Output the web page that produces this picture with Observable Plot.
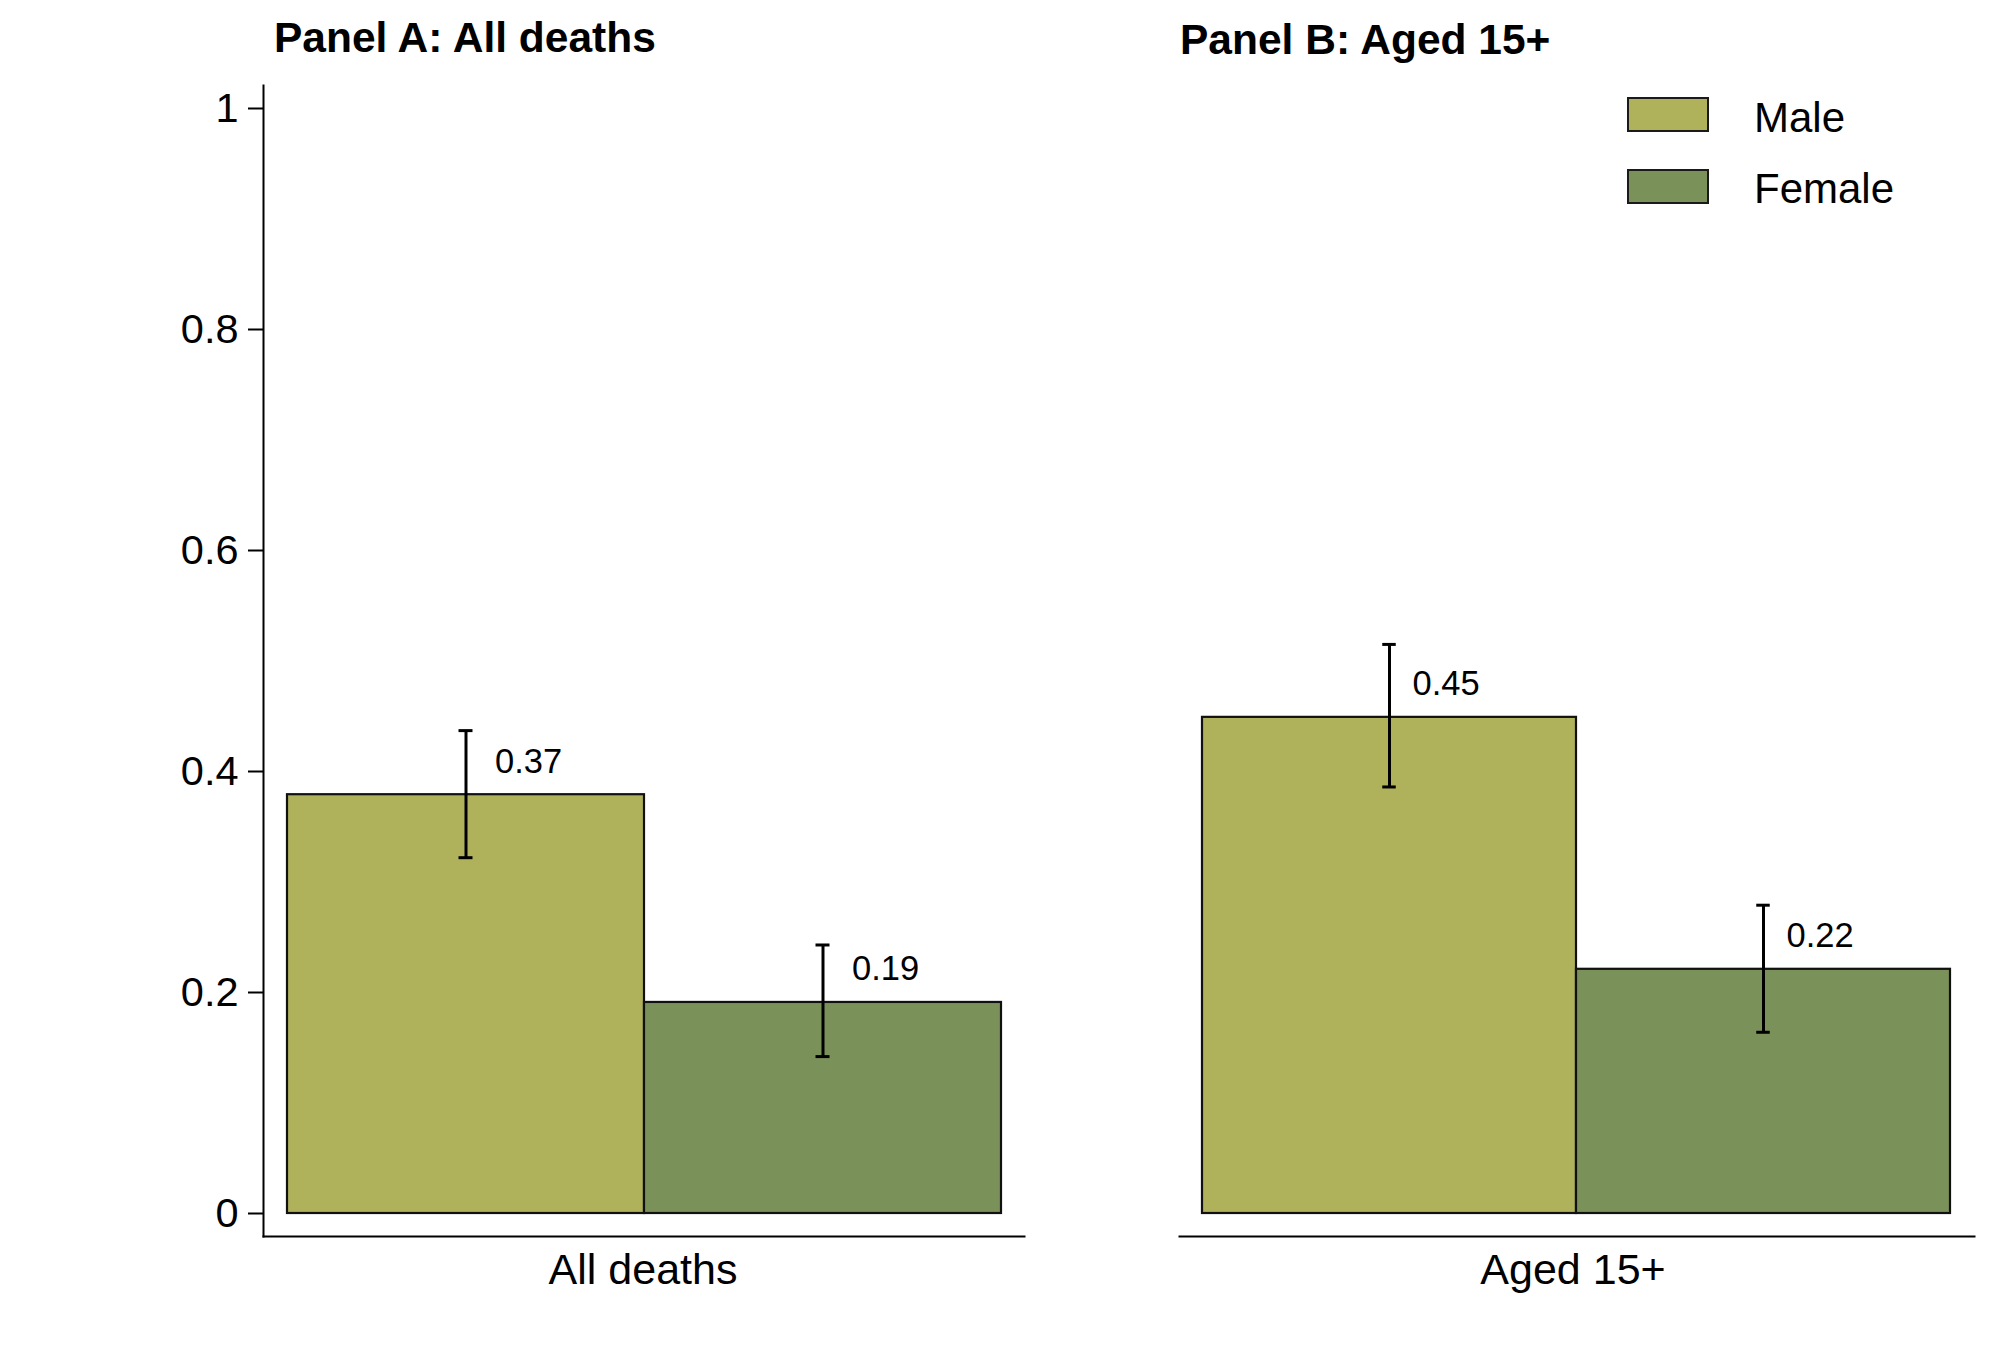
<!DOCTYPE html>
<html><head><meta charset="utf-8">
<script src="https://cdn.jsdelivr.net/npm/d3@7"></script>
<script src="https://cdn.jsdelivr.net/npm/@observablehq/plot@0.6"></script>
<style>
body{margin:0;background:#fff;font-family:"Liberation Sans",Arial,Helvetica,sans-serif;}
#wrap{position:relative;width:2000px;height:1346px;overflow:hidden;background:#fff}
.panel{position:absolute;top:0}
.title{position:absolute;font-weight:bold;font-size:42.5px;line-height:42.5px;white-space:nowrap;color:#000}
.leg{position:absolute;display:flex;align-items:center;font-size:42px;line-height:42px;color:#000;white-space:nowrap}
.leg span{position:relative;top:3px}
.sw{width:78px;height:31px;border:2px solid #1a1a1a;margin-right:45px}
</style></head><body>
<div id="wrap"></div>
<script>
const groups = ["All deaths", "Aged 15+"];
const panelTitles = ["Panel A: All deaths", "Panel B: Aged 15+"];
const sexes = ["Male", "Female"];
const colors = ["#afb15b", "#7a9259"];
const allDeathsValues = [0.379, 0.191];
const allDeathsLow = [0.322, 0.142];
const allDeathsHigh = [0.437, 0.243];
const allDeathsLabels = ["0.37", "0.19"];
const aged15Values = [0.449, 0.221];
const aged15Low = [0.386, 0.164];
const aged15High = [0.515, 0.279];
const aged15Labels = ["0.45", "0.22"];
const yTicks = [0, 0.2, 0.4, 0.6, 0.8, 1];
const yTickLabels = ["0", "0.2", "0.4", "0.6", "0.8", "1"];

const FONT = '"Liberation Sans", Arial, Helvetica, sans-serif';
const wrap = document.getElementById("wrap");

function rowsFor(values, low, high, labels) {
  return sexes.map((s, i) => ({sex: s, value: values[i], lo: low[i], hi: high[i], label: labels[i]}));
}

function panel(cfg) {
  const bw = (cfg.width - cfg.ml - cfg.mr - cfg.il - cfg.ir) / 2;
  const capInset = (bw - 14) / 2;
  const marks = [];
  if (cfg.yAxis) {
    marks.push(Plot.axisY(yTicks, {
      tickFormat: d => yTickLabels[yTicks.indexOf(d)],
      tickSize: 15, tickPadding: 10, fontSize: 41.5, strokeWidth: 2, stroke: "#000", fill: "#000"
    }));
    marks.push(Plot.frame({anchor: "left", stroke: "#000", strokeWidth: 2}));
  }
  marks.push(Plot.frame({anchor: "bottom", stroke: "#000", strokeWidth: 2}));
  marks.push(Plot.barY(cfg.rows, {x: "sex", y: "value", fill: "sex", stroke: "#111", strokeWidth: 2.2}));
  marks.push(Plot.ruleX(cfg.rows, {x: "sex", y1: "lo", y2: "hi", stroke: "#000", strokeWidth: 3}));
  marks.push(Plot.tickY(cfg.rows, {x: "sex", y: "lo", stroke: "#000", strokeWidth: 3, insetLeft: capInset, insetRight: capInset}));
  marks.push(Plot.tickY(cfg.rows, {x: "sex", y: "hi", stroke: "#000", strokeWidth: 3, insetLeft: capInset, insetRight: capInset}));
  marks.push(Plot.text(cfg.rows, {x: "sex", y: "value", text: "label", textAnchor: "start", dx: cfg.labelDx, dy: -33, fontSize: 34.5, fill: "#000"}));
  marks.push(Plot.text([cfg.group], {frameAnchor: "bottom", lineAnchor: "top", dy: 17, dx: cfg.groupDx, fontSize: 43, fill: "#000"}));
  return Plot.plot({
    width: cfg.width, height: 1346,
    marginLeft: cfg.ml, marginRight: cfg.mr, marginTop: 85, marginBottom: 110,
    style: {fontFamily: FONT, background: "transparent", color: "#000"},
    x: {domain: sexes, padding: 0, insetLeft: cfg.il, insetRight: cfg.ir, axis: null},
    y: {domain: [0, 1], insetTop: 23, insetBottom: 23, axis: null},
    color: {domain: sexes, range: colors},
    marks
  });
}

const panels = [
  {left: 0, width: 1100, ml: 263, mr: 76, il: 24, ir: 23, yAxis: true, labelDx: 29, groupDx: -1,
   rows: rowsFor(allDeathsValues, allDeathsLow, allDeathsHigh, allDeathsLabels), group: groups[0],
   titleLeft: 274, titleTop: 17},
  {left: 1100, width: 900, ml: 79, mr: 26, il: 22, ir: 24, yAxis: false, labelDx: 23, groupDx: -4,
   rows: rowsFor(aged15Values, aged15Low, aged15High, aged15Labels), group: groups[1],
   titleLeft: 1180, titleTop: 18.5}
];

panels.forEach((p, i) => {
  const d = document.createElement("div");
  d.className = "panel";
  d.style.left = p.left + "px";
  d.appendChild(panel(p));
  wrap.appendChild(d);
  const t = document.createElement("div");
  t.className = "title";
  t.style.left = p.titleLeft + "px";
  t.style.top = p.titleTop + "px";
  t.textContent = panelTitles[i];
  wrap.appendChild(t);
});

sexes.forEach((s, i) => {
  const row = document.createElement("div");
  row.className = "leg";
  row.style.left = "1627px";
  row.style.top = (97 + i * 71.5) + "px";
  row.style.height = "35px";
  const sw = document.createElement("div");
  sw.className = "sw";
  sw.style.background = colors[i];
  const lab = document.createElement("span");
  lab.textContent = s;
  row.appendChild(sw);
  row.appendChild(lab);
  wrap.appendChild(row);
});
</script>
</body></html>
